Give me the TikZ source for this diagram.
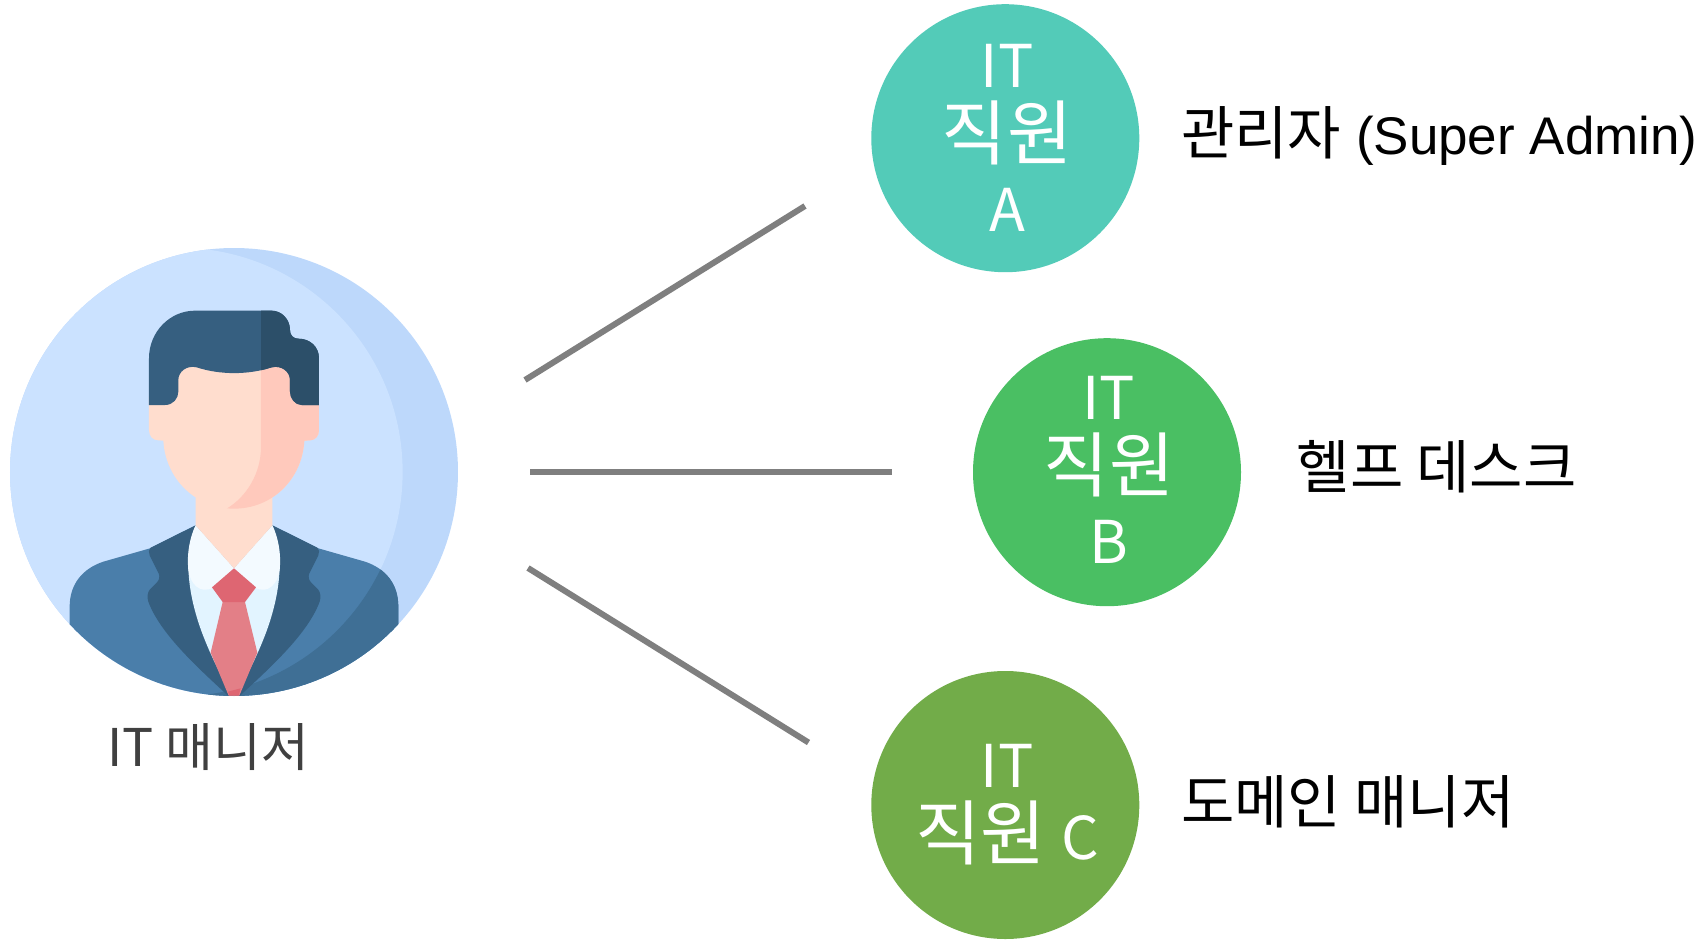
\documentclass[tikz,border=0pt]{standalone}
\usepackage{fontspec}
\setmainfont{Liberation Sans}
\newfontfamily\kr{Noto Sans CJK KR}
\definecolor{skyA}{HTML}{CBE2FF}
\definecolor{skyB}{HTML}{BDD8FB}
\definecolor{hairA}{HTML}{365F80}
\definecolor{hairB}{HTML}{2C4F69}
\definecolor{skinA}{HTML}{FFDDCE}
\definecolor{skinB}{HTML}{FFC9BC}
\definecolor{suitA}{HTML}{4A7EAA}
\definecolor{suitB}{HTML}{3F6F95}
\definecolor{shirtA}{HTML}{E2F4FF}
\definecolor{shirtB}{HTML}{F3FAFF}
\definecolor{tieA}{HTML}{E37F87}
\definecolor{tieB}{HTML}{DE6672}
\definecolor{tealc}{HTML}{53CBB8}
\definecolor{greenc}{HTML}{4ABF63}
\definecolor{olivec}{HTML}{72AC49}
\definecolor{linec}{HTML}{7F7F7F}
\tikzset{
 staff/.style={circle,minimum size=268pt,inner sep=0pt,text=white,align=center,font=\kr\fontsize{59}{72}\selectfont},
 rolelabel/.style={anchor=west,inner sep=0pt,text=black,font=\fontsize{53}{60}\selectfont},
 link/.style={draw=linec,line width=6pt},
}
\newcommand{\ko}[1]{{\kr\fontsize{58}{60}\selectfont #1}}
\newcommand{\koc}[1]{{\kr\fontsize{71}{72}\selectfont #1}}
\newcommand{\pad}{\hspace*{4pt}}
\begin{document}
\begin{tikzpicture}[x=1pt,y=-1pt]
\useasboundingbox (0,0) rectangle (1706,940);
\begin{scope}[shift={(0,230)},x=0.33333pt,y=-0.33333pt]
 \def\bigc{(702,726) circle[radius=672]}
 \def\shadec{(535,726) circle[radius=673]}
 \fill[skyB] \bigc;
 \begin{scope}
  \clip \bigc;
  \fill[skyA] \shadec;
 \end{scope}
 \begin{scope}
  \clip \bigc;
  % suit
  \def\suitp{(209,1500) -- (209,1130) .. controls (209,1060) and (250,1015) .. (310,995) -- (450,955) -- (587,886) -- (702,1015) -- (817,886) -- (955,955) -- (1095,995) .. controls (1155,1015) and (1195,1060) .. (1195,1130) -- (1195,1500) -- cycle}
  \fill[suitA] \suitp;
  \begin{scope}
   \clip \suitp;
   \fill[suitB,even odd rule] (0,0) rectangle (1500,1500) \shadec;
  \end{scope}
  % lapels
  \fill[hairA] (587,886) -- (452,953) .. controls (446,958) and (445,968) .. (449,976) -- (476,1030) .. controls (480,1040) and (478,1050) .. (470,1058) -- (450,1078) .. controls (442,1087) and (441,1102) .. (445,1115) .. controls (480,1210) and (590,1310) .. (684,1397) -- (720,1397) .. controls (814,1310) and (924,1210) .. (959,1115) .. controls (963,1102) and (962,1087) .. (954,1078) -- (934,1058) .. controls (926,1050) and (924,1040) .. (928,1030) -- (955,976) .. controls (959,968) and (958,958) .. (952,953) -- (817,886) -- (702,1015) -- cycle;
  % shirt
  \fill[shirtA] (587,886) .. controls (555,960) and (560,1060) .. (590,1160) .. controls (610,1230) and (660,1340) .. (702,1397) .. controls (744,1340) and (794,1230) .. (814,1160) .. controls (844,1060) and (849,960) .. (817,886) -- (702,1015) -- cycle;
  \fill[shirtB] (587,886) -- (702,1015) -- (640,1072) .. controls (600,1095) and (570,1060) .. (565,1020) .. controls (560,970) and (570,920) .. (587,886) -- cycle;
  \fill[shirtB] (817,886) -- (702,1015) -- (764,1072) .. controls (804,1095) and (834,1060) .. (839,1020) .. controls (844,970) and (834,920) .. (817,886) -- cycle;
  % tie
  \fill[tieA] (668,1116) -- (735,1116) -- (772,1268) -- (718,1397) -- (686,1397) -- (632,1268) -- cycle;
  \fill[tieB] (684,1385) -- (722,1375) -- (716,1397) -- (688,1397) -- cycle;
  \fill[tieB] (702,1015) -- (768,1072) -- (735,1116) -- (668,1116) -- (636,1072) -- cycle;
 \end{scope}
 % neck and head
 \fill[skinA] (587,760) -- (817,760) -- (817,886) -- (702,1015) -- (587,886) -- cycle;
 \def\headp{(447,500) -- (447,600) .. controls (447,618) and (458,631) .. (475,631) -- (490,632) .. controls (497,750) and (590,836) .. (702,836) .. controls (815,836) and (906,750) .. (913,632) -- (930,631) .. controls (946,631) and (957,618) .. (957,600) -- (957,500) -- (870,380) -- (535,380) -- cycle}
 \fill[skinA] \headp;
 \begin{scope}
  \clip \headp;
  \fill[skinB] (783,380) -- (783,650) .. controls (783,730) and (740,800) .. (680,836) -- (1000,836) -- (1000,380) -- cycle;
 \end{scope}
 % hair
 \def\hairp{(447,525) -- (447,385) .. controls (447,305) and (510,242) .. (585,242) -- (815,242) .. controls (845,242) and (870,268) .. (870,300) .. controls (870,316) and (880,326) .. (895,326) .. controls (930,326) and (957,350) .. (957,385) -- (957,525) -- (905,525) .. controls (885,525) and (870,505) .. (870,485) -- (870,450) .. controls (870,425) and (845,405) .. (815,412) .. controls (745,435) and (660,435) .. (590,412) .. controls (560,405) and (535,425) .. (535,450) -- (535,485) .. controls (535,505) and (520,525) .. (495,525) -- cycle}
 \fill[hairA] \hairp;
 \begin{scope}
  \clip \hairp;
  \fill[hairB] (783,200) rectangle (1000,560);
 \end{scope}
\end{scope}
\node[anchor=center,inner sep=0pt,text=black!75,font=\kr\fontsize{52}{60}\selectfont] (mgr) at (208.5,747) {IT 매니저};
\node[staff,fill=tealc] (a) at (1005.3,138.2) {\pad IT\\\pad\koc{직원}\\\pad A};
\node[staff,fill=greenc] (b) at (1107,472.2) {\pad IT\\\pad\koc{직원}\\\pad B\\[-67pt]\mbox{}};
\node[staff,fill=olivec] (c) at (1005.3,805) {\pad IT\\\pad\koc{직원 }C};
\node[rolelabel] (ra) at (1181,136) {\ko{관리자} (Super Admin)};
\node[rolelabel] (rb) at (1296.5,467) {\ko{헬프 데스크}};
\node[rolelabel] (rc) at (1181,802) {\ko{도메인 매니저}};
\coordinate (la1) at (525,380);
\coordinate (la2) at (805,206);
\coordinate (lb1) at (530,472.2);
\coordinate (lb2) at (892,472.2);
\coordinate (lc1) at (528,568);
\coordinate (lc2) at (808.5,742.5);
\draw[link] (la1) -- (la2);
\draw[link] (lb1) -- (lb2);
\draw[link] (lc1) -- (lc2);
\end{tikzpicture}
\end{document}
